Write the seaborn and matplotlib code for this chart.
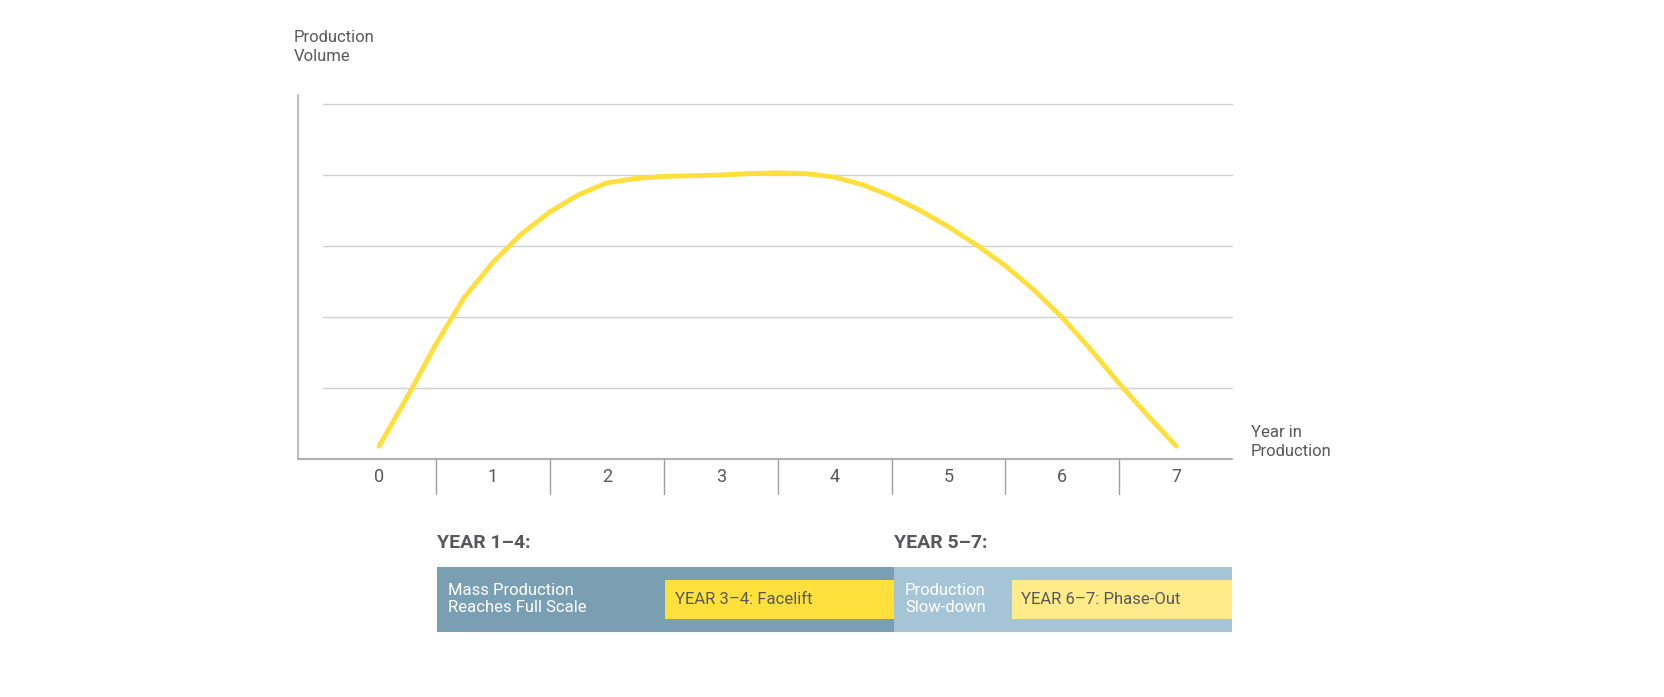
import matplotlib
matplotlib.use("Agg")
import matplotlib.pyplot as plt
import seaborn as sns
import pandas as pd
from matplotlib.patches import Rectangle

years = [0, 0.25, 0.5, 0.75, 1, 1.25, 1.5, 1.75, 2, 2.25, 2.5, 2.75, 3, 3.25, 3.5, 3.75, 4,
         4.25, 4.5, 4.75, 5, 5.25, 5.5, 5.75, 6, 6.25, 6.5, 6.75, 7]
volume = [0.18, 0.88, 1.62, 2.28, 2.77, 3.17, 3.48, 3.72, 3.89, 3.95, 3.98, 3.99, 4.0, 4.02, 4.03, 4.02, 3.97,
          3.86, 3.70, 3.50, 3.27, 3.01, 2.72, 2.38, 1.99, 1.54, 1.06, 0.61, 0.18]
tick_labels = ["0", "1", "2", "3", "4", "5", "6", "7"]

sns.set_theme(style="white")
plt.rcParams['font.family'] = ['Roboto', 'DejaVu Sans']
GRAY = "#58585a"

fig = plt.figure(figsize=(16.64, 6.97), dpi=100)
ax = fig.add_axes([0, 0, 1, 1])
ax.set_xlim(-379/113.9, (1664-379)/113.9)
ax.set_ylim((459-697)/71, 459/71)
ax.axis("off")

px = lambda p: (p-379)/113.9
py = lambda p: (459-p)/71

for g in range(1, 6):
    ax.plot([px(323), px(1232)], [g, g], color="#d0d0d0", lw=1, zorder=1)
ax.plot([px(298), px(1232)], [0, 0], color="#b0b0b0", lw=1.5, zorder=2)
ax.plot([px(298), px(298)], [0, py(95)], color="#b0b0b0", lw=1.2, zorder=2)
for i in range(7):
    xs = i + 0.5
    ax.plot([xs, xs], [0, py(494)], color="#a0a0a0", lw=1, zorder=2)
for i, t in enumerate(tick_labels):
    ax.text(i, py(477), t, ha="center", va="center", fontsize=13, color=GRAY)

df = pd.DataFrame({"year": years, "volume": volume})
sns.lineplot(data=df, x="year", y="volume", ax=ax, color="#ffdf3c", lw=3.5, zorder=3)
ax.get_legend() and ax.get_legend().remove()
ax.axis("off")

ax.text(px(294), py(47), "Production\nVolume", ha="left", va="center", fontsize=12, color=GRAY, linespacing=1.3)
ax.text(px(1251), py(442), "Year in\nProduction", ha="left", va="center", fontsize=12, color=GRAY, linespacing=1.3)

ax.text(px(437), py(543), "YEAR 1\u20134:", ha="left", va="center", fontsize=14, color=GRAY, fontweight="bold")
ax.text(px(894), py(543), "YEAR 5\u20137:", ha="left", va="center", fontsize=14, color=GRAY, fontweight="bold")

def box(x0, x1, y0, y1, c):
    ax.add_patch(Rectangle((px(x0), py(y1)), px(x1)-px(x0), py(y0)-py(y1), color=c, lw=0, zorder=2))

box(437, 894, 567, 632, "#7a9fb3")
box(894, 1232, 567, 632, "#a5c5d6")
box(665, 894, 580, 619, "#ffe03d")
box(1012, 1232, 580, 619, "#ffeb8a")
ax.text(px(448), py(599), "Mass Production\nReaches Full Scale", ha="left", va="center", fontsize=12, color="white", linespacing=1.2, zorder=4)
ax.text(px(675), py(600), "YEAR 3\u20134: Facelift", ha="left", va="center", fontsize=12, color=GRAY, zorder=4)
ax.text(px(905), py(599), "Production\nSlow-down", ha="left", va="center", fontsize=12, color="white", linespacing=1.2, zorder=4)
ax.text(px(1021), py(600), "YEAR 6\u20137: Phase-Out", ha="left", va="center", fontsize=12, color=GRAY, zorder=4)

fig.savefig("out.png", dpi=100)
